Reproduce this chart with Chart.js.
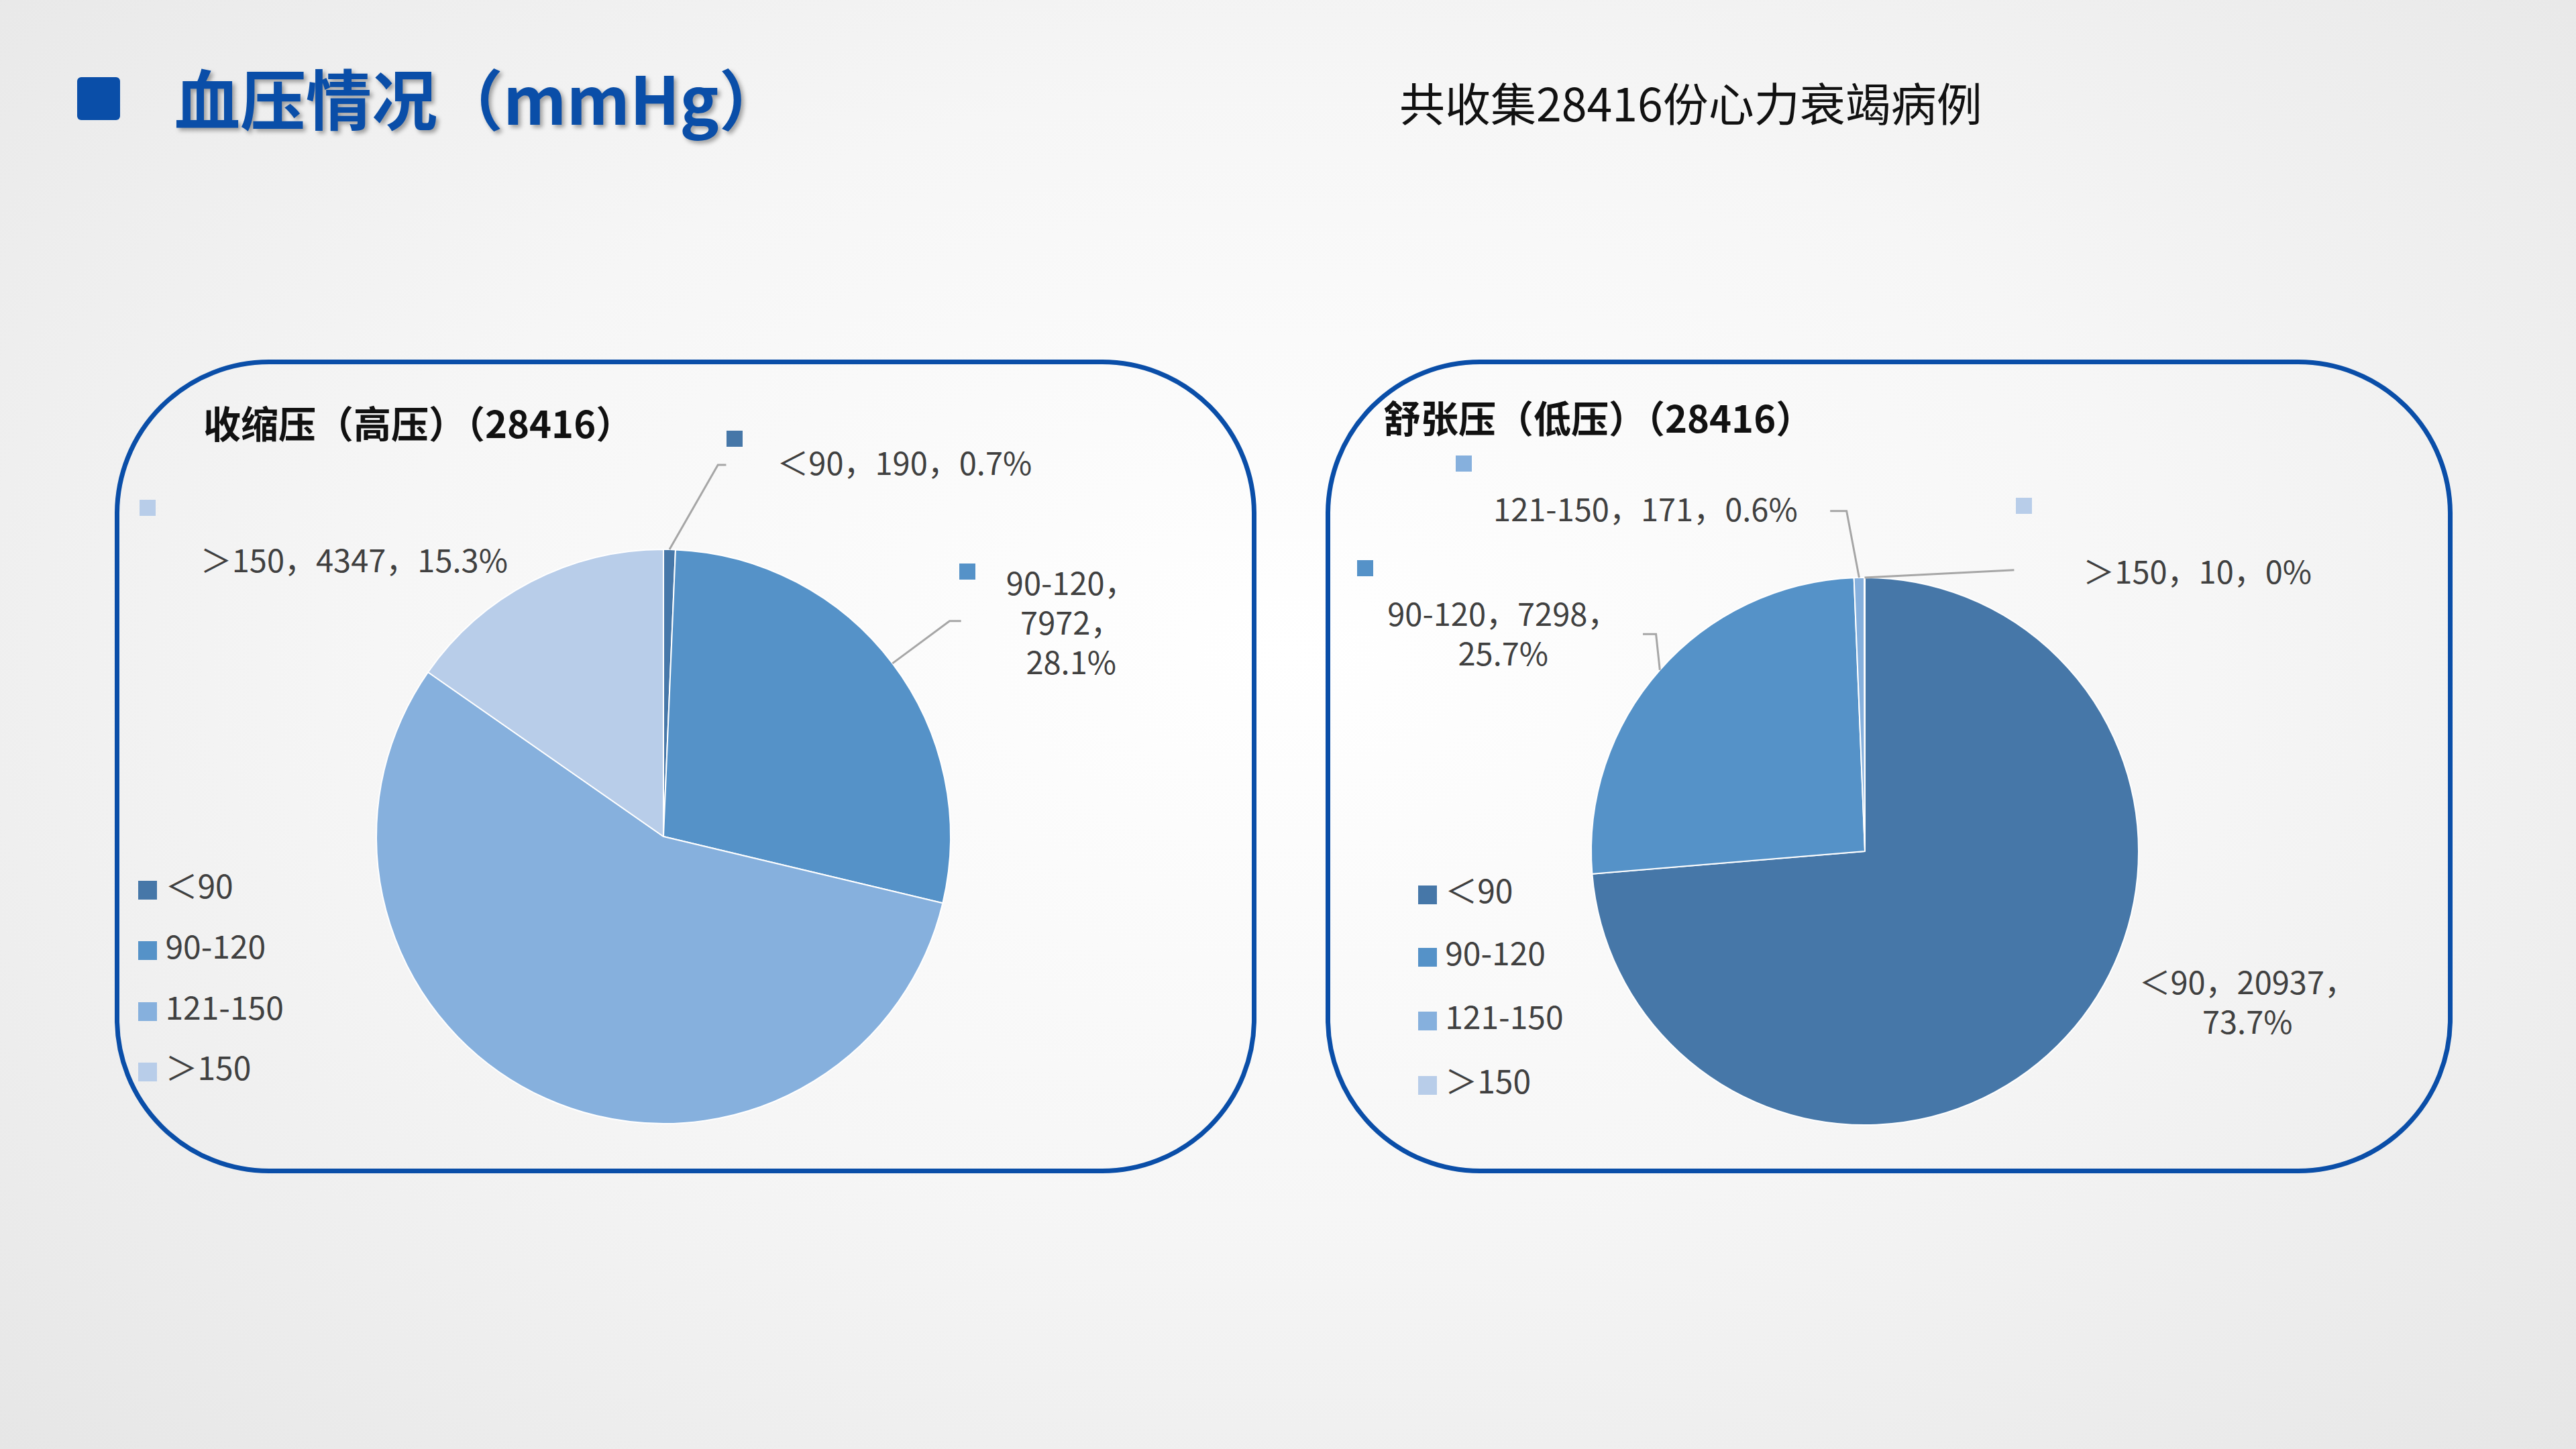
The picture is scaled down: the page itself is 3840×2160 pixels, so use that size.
<!DOCTYPE html>
<html><head><meta charset="utf-8">
<script src="https://cdn.jsdelivr.net/npm/chart.js@4"></script>
<style>
html,body{margin:0;padding:0;width:3840px;height:2160px;overflow:hidden;}
body{background:radial-gradient(ellipse at 50% 45%, #ffffff 0%, #f6f6f6 50%, #e6e6e6 100%);font-family:"Noto Sans CJK SC","Noto Sans",sans-serif;position:relative;}
.abs{position:absolute;}
canvas{position:absolute;left:0;top:0;pointer-events:none;}
.panel{position:absolute;border:7px solid #0a4ea8;border-radius:230px;box-sizing:border-box;}
.lbl{position:absolute;font-size:47px;color:#404040;line-height:59px;white-space:nowrap;}
.sq{position:absolute;width:24px;height:24px;}
.leg{position:absolute;font-size:48px;color:#404040;line-height:60px;white-space:nowrap;}
.leg span{display:inline-block;width:28px;height:28px;margin-right:12px;vertical-align:-2px;}
.ptitle{position:absolute;font-size:56px;font-weight:bold;color:#111;white-space:nowrap;}
</style></head>
<body>
<div class="abs" style="left:115px;top:115px;width:64px;height:64px;background:#0a4ea8;border-radius:6px"></div>
<div class="abs" style="left:260px;top:72px;font-size:98px;font-weight:bold;color:#0a4ea8;text-shadow:4px 4px 6px rgba(0,0,0,0.35);white-space:nowrap">血压情况（mmHg）</div>
<div class="abs" style="left:2086px;top:102px;font-size:68px;color:#111;white-space:nowrap">共收集28416份心力衰竭病例</div>
<div class="panel" style="left:171px;top:536px;width:1702px;height:1213px"></div>
<div class="panel" style="left:1976px;top:536px;width:1680px;height:1213px"></div>
<div class="ptitle" style="left:303px;top:588px">收缩压（高压）（28416）</div>
<div class="ptitle" style="left:2062px;top:580px">舒张压（低压）（28416）</div>
<div id="ov"></div>
<canvas id="c1" width="3840" height="2160"></canvas>
<canvas id="c2" width="3840" height="2160"></canvas>
<script>
const categories = ['＜90','90-120','121-150','＞150'];
const systolicValues = [190, 7972, 15907, 4347];
const systolicPct = ['0.7%','28.1%','56%','15.3%'];
const diastolicValues = [20937, 7298, 171, 10];
const diastolicPct = ['73.7%','25.7%','0.6%','0%'];
const colors = ['#4677a8','#5592c8','#86b0dd','#b8cde9'];
const K = 3840/1568;
const ov = document.getElementById('ov');
function add(html){ov.insertAdjacentHTML('beforeend',html);}
function lbl(x,y,lines,align){ // x,y in ref coords, y = first line center
  const w = 800;
  let left = align==='center'? x*K - w/2 : x*K;
  add(`<div class="lbl" style="left:${left}px;top:${y*K-30}px;width:${w}px;text-align:${align}">${lines.join('<br>')}</div>`);
}
function sq(x,y,c){add(`<div class="sq" style="left:${x*K-12}px;top:${y*K-12}px;background:${c}"></div>`);}
// systolic labels
const s = (i)=>categories[i]+'，'+systolicValues[i]+'，'+systolicPct[i];
sq(447,267,colors[0]); lbl(473,281,[s(0)],'left');
sq(90,309,colors[3]); lbl(122,340,[s(3)],'left');
sq(589,348,colors[1]); lbl(652,354,[categories[1]+'，',systolicValues[1]+'，',systolicPct[1]],'center');
lbl(412,590,[categories[2]+'，',systolicValues[2]+'，'+systolicPct[2]],'center');
// diastolic labels
const d = (i)=>categories[i]+'，'+diastolicValues[i]+'，'+diastolicPct[i];
sq(891,282,colors[2]); lbl(909,309,[d(2)],'left');
sq(1232,308,colors[3]); lbl(1268,347,[d(3)],'left');
sq(831,346,colors[1]); lbl(915,373,[categories[1]+'，'+diastolicValues[1]+'，',diastolicPct[1]],'center');
lbl(1368,597,[categories[0]+'，'+diastolicValues[0]+'，',diastolicPct[0]],'center');
// legends
function legend(x,ys){categories.forEach((c,i)=>add(`<div class="leg" style="left:${x*K-14}px;top:${ys[i]*K-30}px"><span style="background:${colors[i]}"></span>${c}</div>`));}
legend(90,[538,575,612,649]);
legend(869,[541,579,618,657]);

function leaderPlugin(lines){
  return {id:'leaders',afterDatasetsDraw(chart){
    const ctx=chart.ctx, meta=chart.getDatasetMeta(0);
    ctx.save();ctx.strokeStyle='#a6a6a6';ctx.lineWidth=3;
    lines.forEach(l=>{
      const a=meta.data[l.i];
      const ang=(a.startAngle+a.endAngle)/2, r=a.outerRadius;
      ctx.beginPath();ctx.moveTo(a.x+Math.cos(ang)*r,a.y+Math.sin(ang)*r);
      l.pts.forEach(p=>ctx.lineTo(p[0]*K,p[1]*K));
      ctx.stroke();
    });
    ctx.restore();
  }};
}
function pie(id,values,pad,lines){
  new Chart(document.getElementById(id),{
    type:'pie',
    data:{labels:categories,datasets:[{data:values,backgroundColor:colors,borderColor:'#ffffff',borderWidth:2}]},
    options:{responsive:false,devicePixelRatio:1,animation:false,
      layout:{padding:pad},
      plugins:{legend:{display:false},tooltip:{enabled:false}}},
    plugins:[leaderPlugin(lines)]
  });
}
pie('c1',systolicValues,{left:560,right:2422,top:818,bottom:484},
  [{i:0,pts:[[437,283],[442,283]]},{i:1,pts:[[578,378],[585,378]]}]);
pie('c2',diastolicValues,{left:2371,right:651,top:860,bottom:482},
  [{i:2,pts:[[1124,311],[1114,311]]},{i:3,pts:[[1226,347]]},{i:1,pts:[[1008,386],[1000,386]]}]);
</script>
</body></html>
